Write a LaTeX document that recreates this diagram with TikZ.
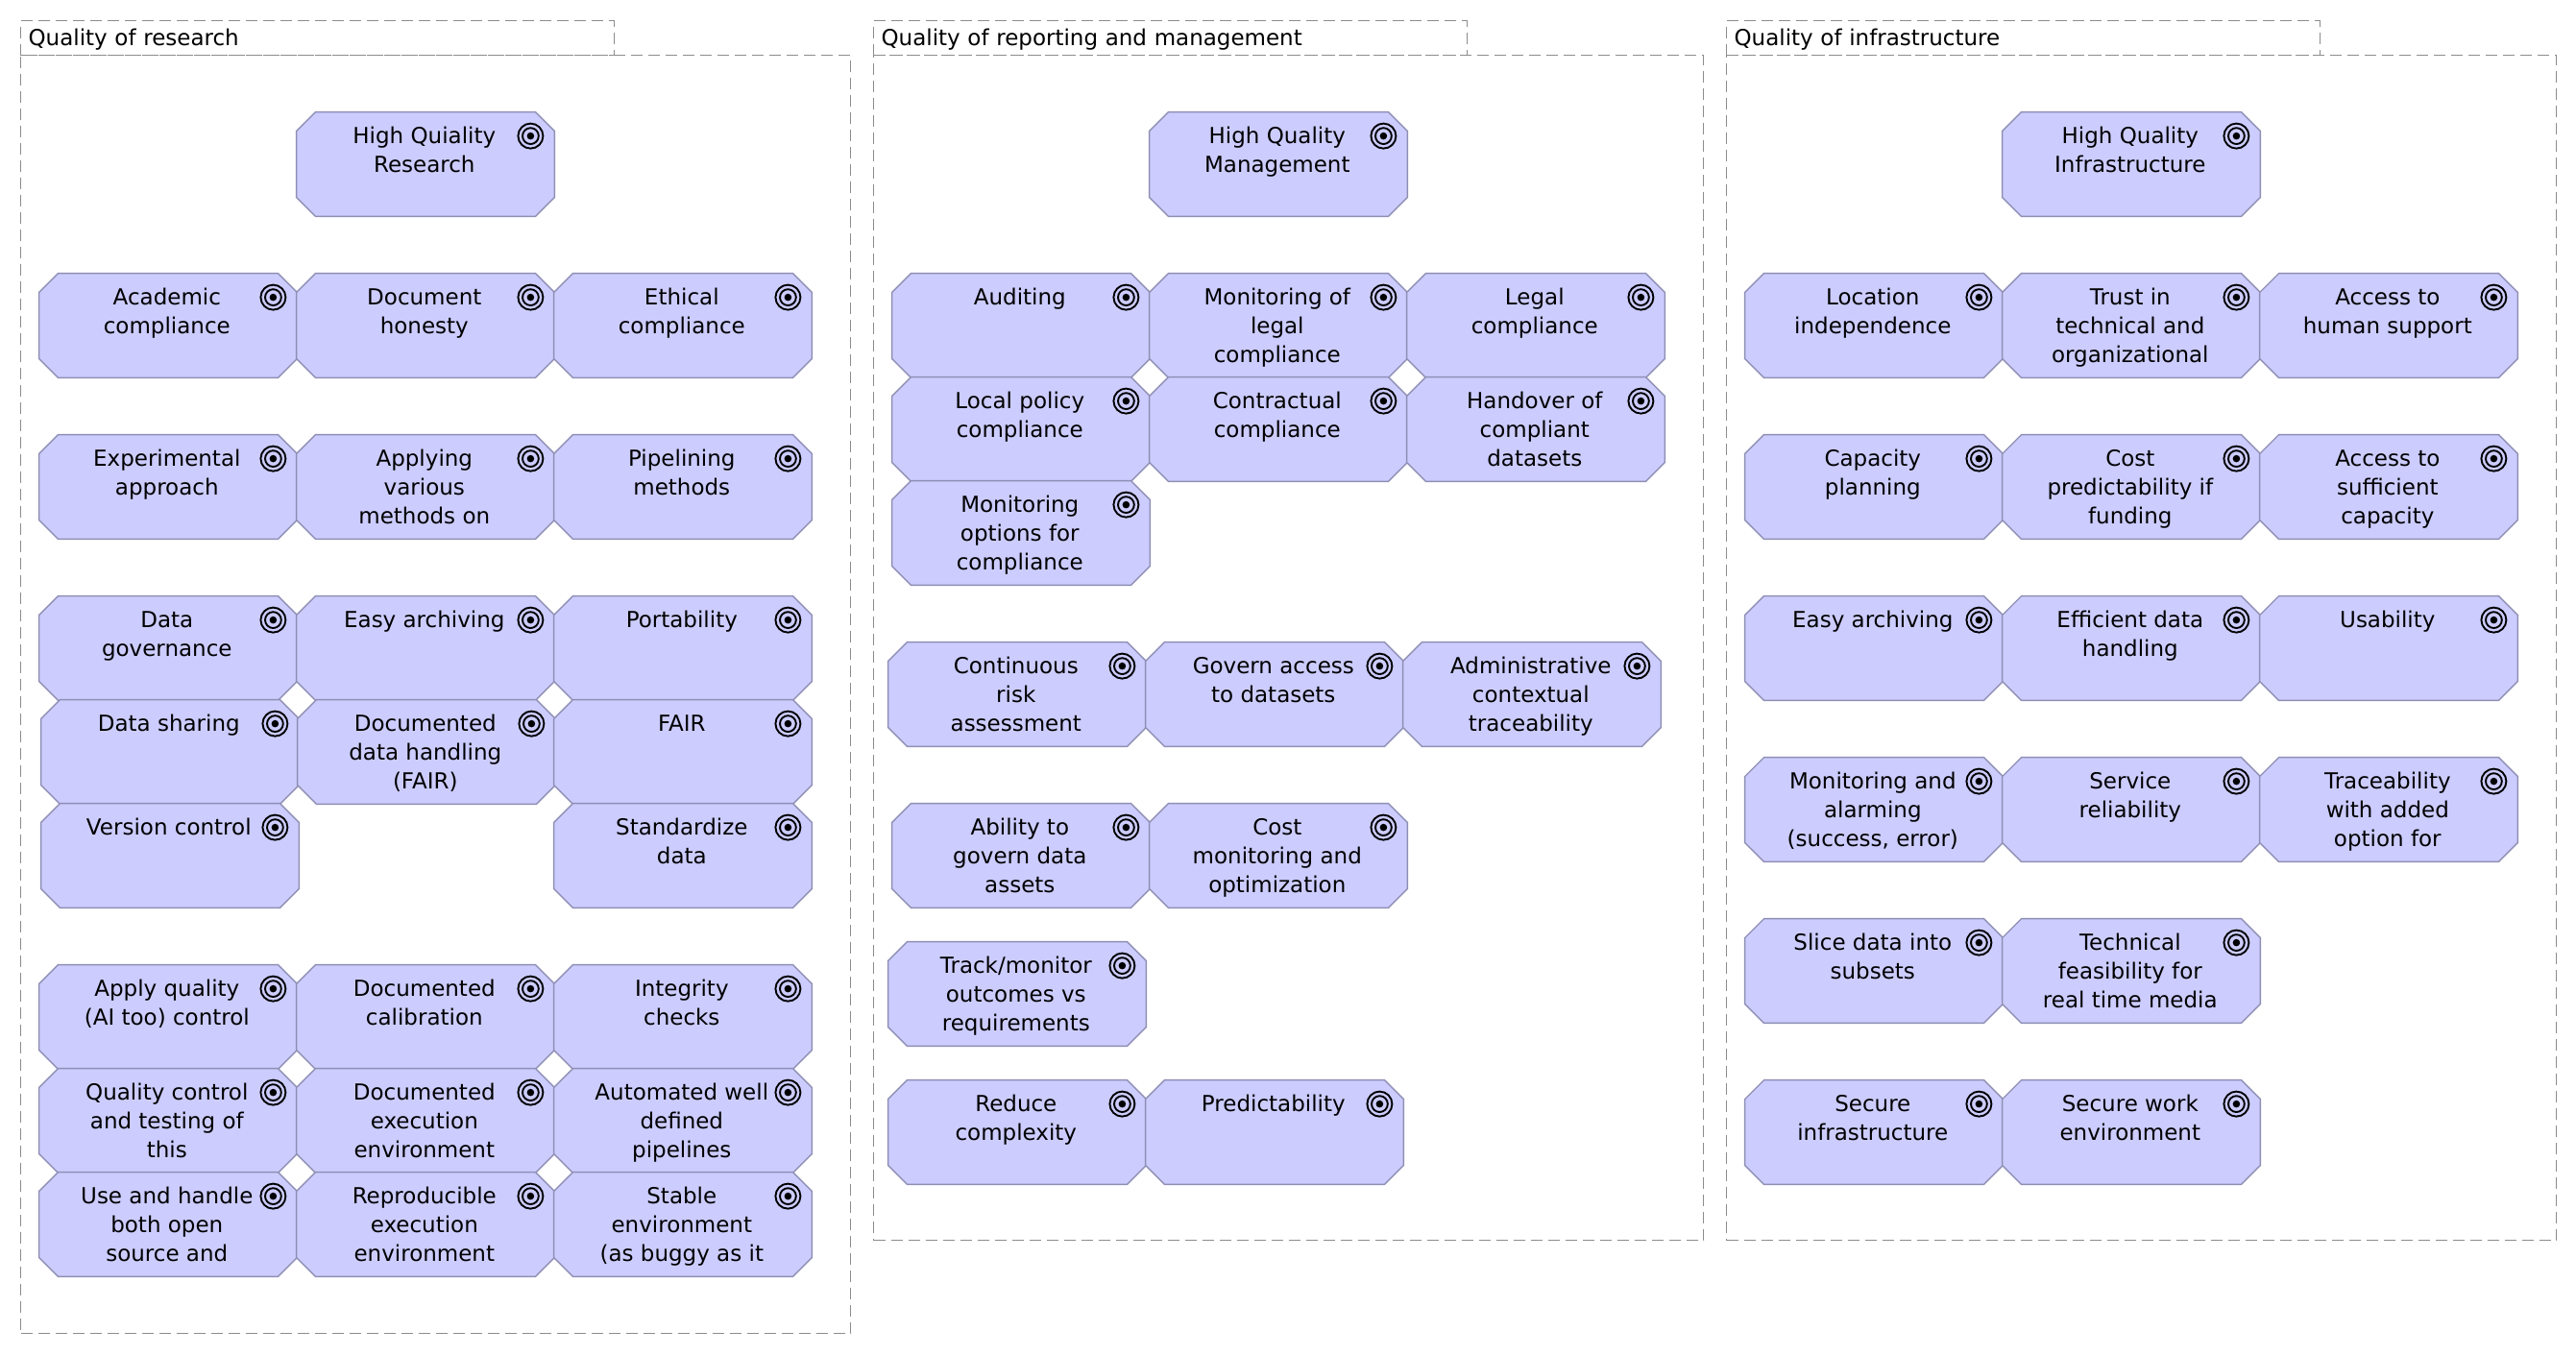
\documentclass[tikz,border=0pt]{standalone}
\usepackage{fontspec}
\setmainfont{DejaVu Sans}
\usepackage{xcolor}
\usetikzlibrary{calc,backgrounds}
\definecolor{goalfill}{HTML}{CCCCFF}
\definecolor{goalline}{HTML}{8F8FB5}
\definecolor{framegray}{HTML}{8C8C8C}
\newcommand{\GT}[1]{\makebox[0pt]{\smash{\raisebox{10.8pt}{\kern-1.2pt\parbox[t]{130pt}{\centering #1}}}}}

\begin{document}
\begin{tikzpicture}[
  x=1pt, y=-1pt,
  every node/.style={font=\fontsize{11.5}{15}\selectfont},
  goal/.style={inner sep=0pt, minimum width=134pt, minimum height=54pt},
  octa/.style={draw=goalline, fill=goalfill, line width=0.7pt},
  tabbox/.style={draw=framegray, dash pattern=on 6pt off 3pt, line width=0.6pt,
                 anchor=north west, inner xsep=4pt, inner ysep=0pt,
                 minimum width=309pt, minimum height=18pt, align=left, text width=301pt,
                 text height=13pt, text depth=5pt},
  framebox/.style={draw=framegray, dash pattern=on 6pt off 3pt, line width=0.6pt,
                   anchor=north west, minimum width=432pt},
  ring/.style={black, line width=0.95pt}
]
\useasboundingbox (0,0) rectangle (1341,705);

% research
\node[tabbox] (tabres) at (10.5,10.5) {Quality of research};
\node[framebox, minimum height=665.5pt] (frmres) at (10.5,28.5) {};
\node[goal] (hqres) at (221.5,85.5) {\GT{High Quiality\\Research}};
\node[goal] (acad) at (87.5,169.5) {\GT{Academic\\compliance}};
\node[goal] (honest) at (221.5,169.5) {\GT{Document\\honesty}};
\node[goal] (ethic) at (355.5,169.5) {\GT{Ethical\\compliance}};
\node[goal] (exper) at (87.5,253.5) {\GT{Experimental\\approach}};
\node[goal] (apply) at (221.5,253.5) {\GT{Applying\\various\\methods on}};
\node[goal] (pipe) at (355.5,253.5) {\GT{Pipelining\\methods}};
\node[goal] (dgov) at (87.5,337.5) {\GT{Data\\governance}};
\node[goal] (arch) at (221.5,337.5) {\GT{Easy archiving}};
\node[goal] (port) at (355.5,337.5) {\GT{Portability}};
\node[goal] (dshare) at (88.5,391.5) {\GT{Data sharing}};
\node[goal] (dhand) at (222,391.5) {\GT{Documented\\data handling\\(FAIR)}};
\node[goal] (fair) at (355.5,391.5) {\GT{FAIR}};
\node[goal] (vers) at (88.5,445.5) {\GT{Version control}};
\node[goal] (stand) at (355.5,445.5) {\GT{Standardize\\data}};
\node[goal] (aqual) at (87.5,529.5) {\GT{Apply quality\\(AI too) control}};
\node[goal] (calib) at (221.5,529.5) {\GT{Documented\\calibration}};
\node[goal] (integ) at (355.5,529.5) {\GT{Integrity\\checks}};
\node[goal] (qctrl) at (87.5,583.5) {\GT{Quality control\\and testing of\\this}};
\node[goal] (dexec) at (221.5,583.5) {\GT{Documented\\execution\\environment}};
\node[goal] (auto) at (355.5,583.5) {\GT{Automated well\\defined\\pipelines}};
\node[goal] (useopen) at (87.5,637.5) {\GT{Use and handle\\both open\\source and}};
\node[goal] (rexec) at (221.5,637.5) {\GT{Reproducible\\execution\\environment}};
\node[goal] (stable) at (355.5,637.5) {\GT{Stable\\environment\\(as buggy as it}};

% management
\node[tabbox] (tabman) at (454.5,10.5) {Quality of reporting and management};
\node[framebox, minimum height=617pt] (frmman) at (454.5,28.5) {};
\node[goal] (hqman) at (665.5,85.5) {\GT{High Quality\\Management}};
\node[goal] (audit) at (531.5,169.5) {\GT{Auditing}};
\node[goal] (monleg) at (665.5,169.5) {\GT{Monitoring of\\legal\\compliance}};
\node[goal] (legal) at (799.5,169.5) {\GT{Legal\\compliance}};
\node[goal] (local) at (531.5,223.5) {\GT{Local policy\\compliance}};
\node[goal] (contr) at (665.5,223.5) {\GT{Contractual\\compliance}};
\node[goal] (hand) at (799.5,223.5) {\GT{Handover of\\compliant\\datasets}};
\node[goal] (monopt) at (531.5,277.5) {\GT{Monitoring\\options for\\compliance}};
\node[goal] (risk) at (529.5,361.5) {\GT{Continuous\\risk\\assessment}};
\node[goal] (govacc) at (663.5,361.5) {\GT{Govern access\\to datasets}};
\node[goal] (admin) at (797.5,361.5) {\GT{Administrative\\contextual\\traceability}};
\node[goal] (ability) at (531.5,445.5) {\GT{Ability to\\govern data\\assets}};
\node[goal] (costmon) at (665.5,445.5) {\GT{Cost\\monitoring and\\optimization}};
\node[goal] (track) at (529.5,517.5) {\GT{Track/monitor\\outcomes vs\\requirements}};
\node[goal] (reduce) at (529.5,589.5) {\GT{Reduce\\complexity}};
\node[goal] (predict) at (663.5,589.5) {\GT{Predictability}};

% infrastructure
\node[tabbox] (tabinf) at (898.5,10.5) {Quality of infrastructure};
\node[framebox, minimum height=617pt] (frminf) at (898.5,28.5) {};
\node[goal] (hqinf) at (1109.5,85.5) {\GT{High Quality\\Infrastructure}};
\node[goal] (locind) at (975.5,169.5) {\GT{Location\\independence}};
\node[goal] (trust) at (1109.5,169.5) {\GT{Trust in\\technical and\\organizational}};
\node[goal] (human) at (1243.5,169.5) {\GT{Access to\\human support}};
\node[goal] (capac) at (975.5,253.5) {\GT{Capacity\\planning}};
\node[goal] (costpre) at (1109.5,253.5) {\GT{Cost\\predictability if\\funding}};
\node[goal] (suffic) at (1243.5,253.5) {\GT{Access to\\sufficient\\capacity}};
\node[goal] (archinf) at (975.5,337.5) {\GT{Easy archiving}};
\node[goal] (effic) at (1109.5,337.5) {\GT{Efficient data\\handling}};
\node[goal] (usab) at (1243.5,337.5) {\GT{Usability}};
\node[goal] (alarm) at (975.5,421.5) {\GT{Monitoring and\\alarming\\(success, error)}};
\node[goal] (reliab) at (1109.5,421.5) {\GT{Service\\reliability}};
\node[goal] (trace) at (1243.5,421.5) {\GT{Traceability\\with added\\option for}};
\node[goal] (slice) at (975.5,505.5) {\GT{Slice data into\\subsets}};
\node[goal] (techf) at (1109.5,505.5) {\GT{Technical\\feasibility for\\real time media}};
\node[goal] (secinf) at (975.5,589.5) {\GT{Secure\\infrastructure}};
\node[goal] (secwork) at (1109.5,589.5) {\GT{Secure work\\environment}};

\foreach \t in {hqres,acad,honest,ethic,exper,apply,pipe,dgov,arch,port,dshare,dhand,fair,
                vers,stand,aqual,calib,integ,qctrl,dexec,auto,useopen,rexec,stable,
                hqman,audit,monleg,legal,local,contr,hand,monopt,risk,govacc,admin,
                ability,costmon,track,reduce,predict,
                hqinf,locind,trust,human,capac,costpre,suffic,archinf,effic,usab,
                alarm,reliab,trace,slice,techf,secinf,secwork}{
  \begin{pgfonlayer}{background}
    \draw[octa] ($(\t.north west)+(10,0)$) -- ($(\t.north east)+(-10,0)$)
      -- ($(\t.north east)+(0,10)$) -- ($(\t.south east)+(0,-10)$)
      -- ($(\t.south east)+(-10,0)$) -- ($(\t.south west)+(10,0)$)
      -- ($(\t.south west)+(0,-10)$) -- ($(\t.north west)+(0,10)$) -- cycle;
  \end{pgfonlayer}
  \draw[ring] ($(\t.north east)+(-12.5,12.5)$) circle (6.5) circle (4.2);
  \fill ($(\t.north east)+(-12.5,12.5)$) circle (1.9);
}
\end{tikzpicture}
\end{document}
